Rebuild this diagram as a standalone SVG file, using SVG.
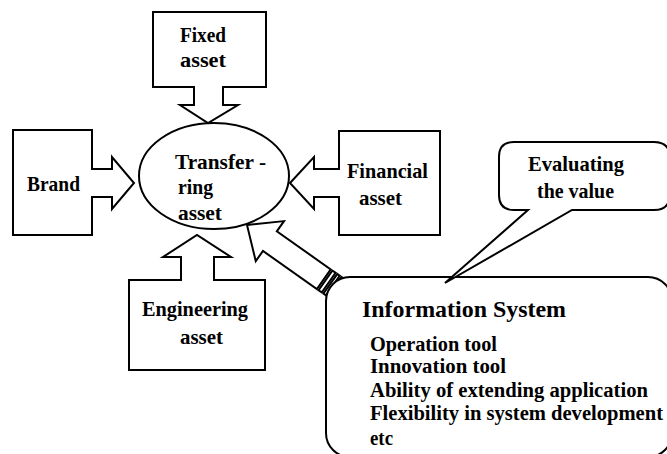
<svg xmlns="http://www.w3.org/2000/svg" width="667" height="454" viewBox="0 0 667 454">
<style>
.s{fill:#fff;stroke:#000;stroke-width:2;stroke-linejoin:miter}
.t{font-family:"Liberation Serif","Times New Roman",serif;font-weight:bold;font-size:21px;fill:#000}
.h{font-size:24px}
.i{font-size:20px}
</style>
<rect width="667" height="454" fill="#fff"/>
<g id="connectors">
<g id="is-arrow" transform="translate(247,225) rotate(35.2)">
<path class="s" d="M0,0 L28,-24.5 L28,-12 L94,-12 L94,12 L28,12 L28,24.5 Z"/>
<rect class="s" x="96" y="-12" width="4" height="24"/>
<rect class="s" x="102" y="-12" width="3" height="24"/>
<rect class="s" x="107" y="-12" width="3" height="24"/>
</g>
</g>
<g id="transferring">
<ellipse class="s" cx="214" cy="176" rx="75" ry="53"/>
<text class="t" x="175" y="169" textLength="91" lengthAdjust="spacingAndGlyphs">Transfer -</text>
<text class="t" x="178" y="194" textLength="35" lengthAdjust="spacingAndGlyphs">ring</text>
<text class="t" x="178" y="220" textLength="44" lengthAdjust="spacingAndGlyphs">asset</text>
</g>
<g id="fixed">
<path class="s" d="M153,12 H266 V87 H223 V105 H238 L208,123 L180,105 H194 V87 H153 Z"/>
<text class="t" x="180" y="42" textLength="46" lengthAdjust="spacingAndGlyphs">Fixed</text>
<text class="t" x="180" y="67" textLength="46" lengthAdjust="spacingAndGlyphs">asset</text>
</g>
<g id="brand">
<path class="s" d="M13,130 H92 V169 H112 V157 L134,183 L112,209 V197 H92 V235 H13 Z"/>
<text class="t" x="27" y="191" textLength="53" lengthAdjust="spacingAndGlyphs">Brand</text>
</g>
<g id="financial">
<path class="s" d="M440,131 V235 H339 V197 H314 V209 L290,183 L314,157 V169 H339 V131 Z"/>
<text class="t" x="347" y="178" textLength="81" lengthAdjust="spacingAndGlyphs">Financial</text>
<text class="t" x="359" y="205" textLength="43" lengthAdjust="spacingAndGlyphs">asset</text>
</g>
<g id="engineering">
<path class="s" d="M129,370 V280 H181 V257 H163 L197,235 L231,257 H214 V280 H265 V370 Z"/>
<text class="t" x="142" y="316" textLength="106" lengthAdjust="spacingAndGlyphs">Engineering</text>
<text class="t" x="180" y="344" textLength="43" lengthAdjust="spacingAndGlyphs">asset</text>
</g>
<g id="information-system">
<rect class="s" x="326" y="277" width="346" height="180" rx="24" ry="24"/>
<text class="t h" x="362" y="317" textLength="204" lengthAdjust="spacingAndGlyphs">Information System</text>
<text class="t i" x="370" y="351" textLength="127" lengthAdjust="spacingAndGlyphs">Operation tool</text>
<text class="t i" x="370" y="373" textLength="136" lengthAdjust="spacingAndGlyphs">Innovation tool</text>
<text class="t i" x="370" y="397" textLength="278" lengthAdjust="spacingAndGlyphs">Ability of extending application</text>
<text class="t i" x="370" y="420" textLength="293" lengthAdjust="spacingAndGlyphs">Flexibility in system development</text>
<text class="t i" x="370" y="445" textLength="23" lengthAdjust="spacingAndGlyphs">etc</text>
</g>
<g id="evaluating">
<path class="s" d="M514,142 H654 Q670,142 670,158 V194 Q670,210 654,210 H572 L445,283 L528,210 H514 Q499,210 499,195 V157 Q499,142 514,142 Z"/>
<text class="t" x="528" y="171" textLength="96" lengthAdjust="spacingAndGlyphs">Evaluating</text>
<text class="t" x="537" y="198" textLength="77" lengthAdjust="spacingAndGlyphs">the value</text>
</g>
</svg>
